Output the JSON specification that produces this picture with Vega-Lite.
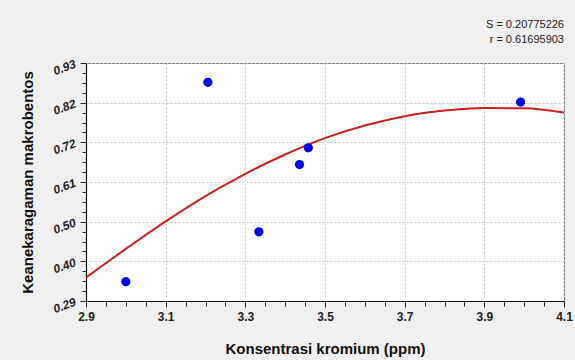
{
  "$schema": "https://vega.github.io/schema/vega-lite/v6.json",
  "autosize": {"type": "none"},
  "width": 478,
  "height": 238,
  "padding": {"left": 86, "top": 63, "right": 11, "bottom": 59},
  "background": "#efefef",
  "title": {
    "text": "S = 0.20775226",
    "subtitle": "r = 0.61695903",
    "anchor": "end",
    "frame": "group",
    "font": "Liberation Sans",
    "fontSize": 11,
    "fontWeight": "normal",
    "color": "#222222",
    "subtitleFont": "Liberation Sans",
    "subtitleFontSize": 11,
    "subtitleColor": "#222222",
    "subtitlePadding": 4,
    "offset": 12
  },
  "config": {
    "view": {"fill": "white", "stroke": "#666666", "strokeWidth": 1},
    "font": "Liberation Sans"
  },
  "datasets": {
    "points": [
      {"x": 3.0, "y": 0.342},
      {"x": 3.206, "y": 0.878},
      {"x": 3.334, "y": 0.476},
      {"x": 3.436, "y": 0.657},
      {"x": 3.458, "y": 0.702},
      {"x": 3.991, "y": 0.825}
    ],
    "curve": [
      {"x": 2.9, "y": 0.353},
      {"x": 3.0, "y": 0.430},
      {"x": 3.1, "y": 0.504},
      {"x": 3.2, "y": 0.572},
      {"x": 3.3, "y": 0.632},
      {"x": 3.4, "y": 0.684},
      {"x": 3.5, "y": 0.728},
      {"x": 3.6, "y": 0.762},
      {"x": 3.7, "y": 0.787},
      {"x": 3.8, "y": 0.802},
      {"x": 3.9, "y": 0.809},
      {"x": 4.0, "y": 0.808},
      {"x": 4.1, "y": 0.797}
    ]
  },
  "encoding": {
    "x": {
      "field": "x",
      "type": "quantitative",
      "scale": {"domain": [2.9, 4.1], "nice": false, "zero": false},
      "axis": {
        "title": "Konsentrasi kromium (ppm)",
        "titleFont": "Liberation Sans",
        "titleFontSize": 15,
        "titleFontWeight": "bold",
        "titleColor": "#111111",
        "titlePadding": 19,
        "values": [2.9, 2.95, 3.0, 3.05, 3.1, 3.15, 3.2, 3.25, 3.3, 3.35, 3.4, 3.45, 3.5, 3.55, 3.6, 3.65, 3.7, 3.75, 3.8, 3.85, 3.9, 3.95, 4.0, 4.05, 4.1],
        "labelExpr": "abs((datum.value - 2.9) / 0.2 - round((datum.value - 2.9) / 0.2)) < 0.01 ? format(datum.value, '.1f') : ''",
        "labelFont": "Liberation Sans",
        "labelFontSize": 12,
        "labelFontWeight": "bold",
        "labelColor": "#222222",
        "labelPadding": 4,
        "labelFlush": false,
        "labelOverlap": false,
        "domainColor": "#111111",
        "domainWidth": 1.2,
        "tickColor": "#222222",
        "tickSize": {"condition": {"test": "abs((datum.value - 2.9) / 0.2 - round((datum.value - 2.9) / 0.2)) < 0.01", "value": 6}, "value": 5},
        "grid": true,
        "gridColor": "#c8c8c8",
        "gridDash": [2, 2],
        "gridOpacity": {"condition": {"test": "abs((datum.value - 2.9) / 0.2 - round((datum.value - 2.9) / 0.2)) < 0.01", "value": 1}, "value": 0}
      }
    },
    "y": {
      "field": "y",
      "type": "quantitative",
      "scale": {"domain": [0.29, 0.93], "nice": false, "zero": false},
      "axis": {
        "title": "Keanekaragaman makrobentos",
        "titleFont": "Liberation Sans",
        "titleFontSize": 15,
        "titleFontWeight": "bold",
        "titleColor": "#111111",
        "titlePadding": 16,
        "values": [0.29, 0.316667, 0.343333, 0.37, 0.396667, 0.423333, 0.45, 0.476667, 0.503333, 0.53, 0.556667, 0.583333, 0.61, 0.636667, 0.663333, 0.69, 0.716667, 0.743333, 0.77, 0.796667, 0.823333, 0.85, 0.876667, 0.903333, 0.93],
        "labelExpr": "abs((datum.value - 0.29) / 0.106667 - round((datum.value - 0.29) / 0.106667)) < 0.01 ? format(datum.value, '.2f') : ''",
        "labelFont": "Liberation Sans",
        "labelFontSize": 12,
        "labelFontWeight": "bold",
        "labelFontStyle": "italic",
        "labelColor": "#222222",
        "labelAngle": -20,
        "labelAlign": "right",
        "labelBaseline": "middle",
        "labelPadding": 5,
        "labelOverlap": false,
        "labelFlush": false,
        "domainColor": "#111111",
        "domainWidth": 1.2,
        "tickColor": "#222222",
        "tickSize": {"condition": {"test": "abs((datum.value - 0.29) / 0.106667 - round((datum.value - 0.29) / 0.106667)) < 0.01", "value": 6}, "value": 4},
        "grid": true,
        "gridColor": "#c8c8c8",
        "gridDash": [2, 2],
        "gridOpacity": {"condition": {"test": "abs((datum.value - 0.29) / 0.106667 - round((datum.value - 0.29) / 0.106667)) < 0.01", "value": 1}, "value": 0}
      }
    }
  },
  "layer": [
    {
      "data": {"name": "curve"},
      "mark": {"type": "line", "color": "#cc1f1f", "strokeWidth": 2, "interpolate": "monotone", "clip": true}
    },
    {
      "data": {"name": "points"},
      "mark": {"type": "point", "filled": true, "color": "#0000ee", "opacity": 1, "size": 85}
    }
  ]
}
